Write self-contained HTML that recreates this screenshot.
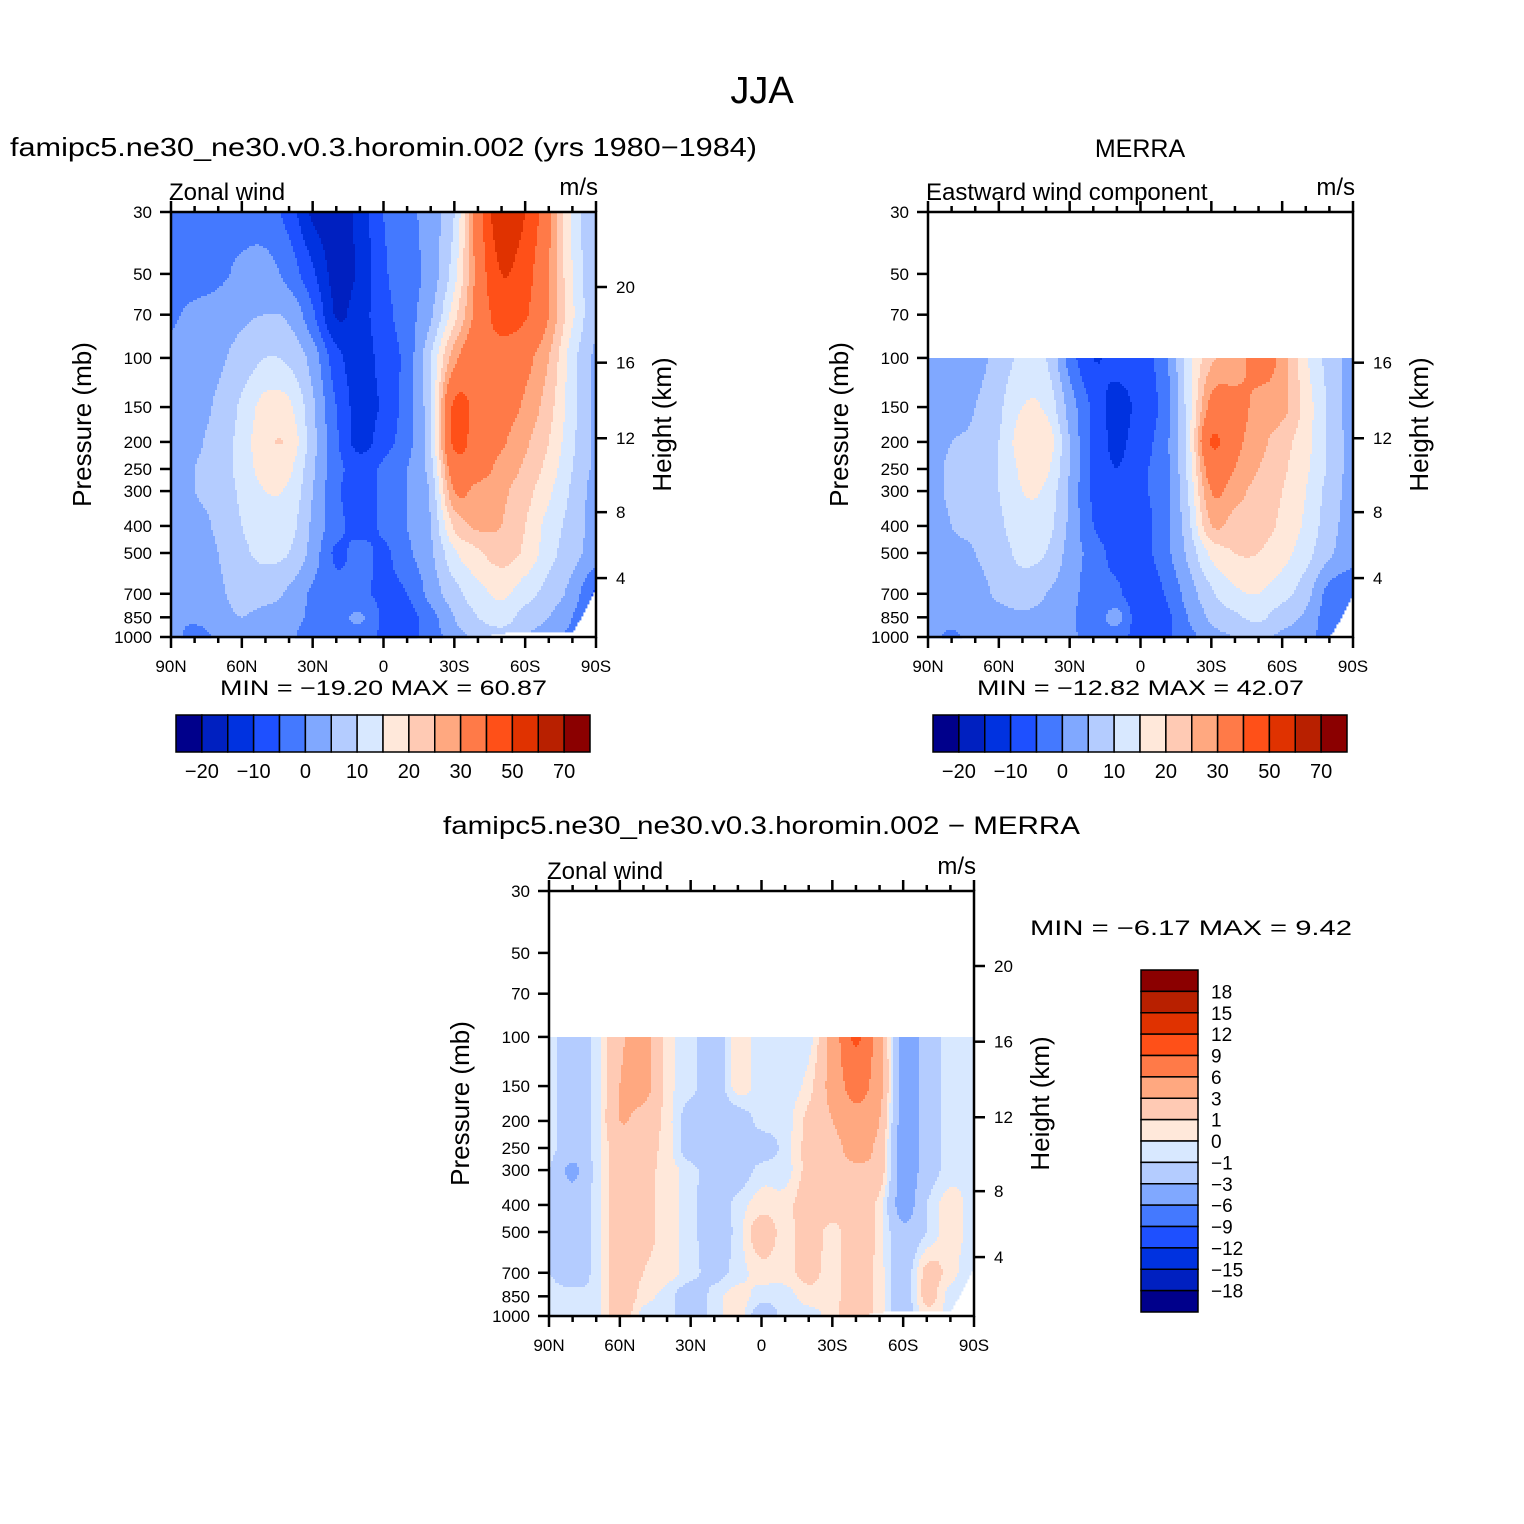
<!DOCTYPE html>
<html><head><meta charset="utf-8"><title>JJA Zonal wind</title>
<style>
html,body{margin:0;padding:0;background:#fff;}
svg{display:block;font-family:"Liberation Sans",sans-serif;}
</style></head>
<body>
<svg id="fig" width="1524" height="1524" viewBox="0 0 1524 1524" xmlns="http://www.w3.org/2000/svg">
<rect x="0" y="0" width="1524" height="1524" fill="#fff"/>
<text x="762" y="103" font-size="38" text-anchor="middle">JJA</text>
<text x="10" y="156" font-size="26" textLength="747" lengthAdjust="spacingAndGlyphs">famipc5.ne30_ne30.v0.3.horomin.002 (yrs 1980−1984)</text>
<text x="1140" y="157" font-size="25" text-anchor="middle">MERRA</text>
<text x="443" y="834" font-size="25" textLength="637" lengthAdjust="spacingAndGlyphs">famipc5.ne30_ne30.v0.3.horomin.002 − MERRA</text>
<g id="p1"></g>
<g id="p2"></g>
<g id="p3"></g>
</svg>
<script>
const PRESS = [30,50,70,100,150,200,250,300,400,500,700,850,1000];
const LATS = [90,80,70,60,50,40,30,20,10,0,-10,-20,-30,-40,-50,-60,-70,-80,-90];
const PRESS_TICKS = [30,50,70,100,150,200,250,300,400,500,700,850,1000];
const LAT_TICK_LABELS = ["90N","60N","30N","0","30S","60S","90S"];
const LAT_TICK_VALUES = [90,60,30,0,-30,-60,-90];
const HEIGHT_TICKS_KM = [20,16,12,8,4];
const HEIGHT_TICKS_P = [55.7,104,194,357,615];
const PALETTE = ["#00008b","#0020c0","#0032e0","#1e50ff","#4479ff","#80a8ff","#b4ccff","#d8e8ff","#ffe8da","#ffcab4","#ffa880","#ff7a48","#ff5018","#e03200","#b82000","#8b0000"];
const LEVELS_ABS = [-20,-15,-10,-5,0,5,10,15,20,25,30,40,50,60,70];
const LEVELS_DIFF = [-18,-15,-12,-9,-6,-3,-1,0,1,3,6,9,12,15,18];
const SURF_MODEL = [1000,1000,1000,1000,1000,1000,1000,1000,1000,1000,1000,1000,1000,1000,968,965,965,962,660];
const SURF_MERRA = [1000,1000,1000,1000,1000,1000,1000,1000,1000,1000,1000,1000,1000,1000,1000,1000,1000,1000,700];
const modelU = [
 [-2,-2,-2,-2,-3,-7,-16,-18,-13,-5,-2,3,10,35,58,50,32,14,5],
 [-2,-2,-1,1,2,-2,-9,-17,-14,-6,-2,2,13,33,50,44,30,15,6],
 [-0.5,1,2,4,5,4,-4,-15.5,-12,-7,-2,4,18,33,44,41,30,16,6],
 [1,2,4,7,10,9,3,-8,-12,-8,-3,10,28,36,36,32,25,12,4],
 [1,3,6,11,17,16,6,-5,-12,-9,-2,10,42,37,33,29,22,12,4],
 [1,4,7,12,19,19,7,-4,-12,-7,-2,10,42,35,31,26,20,11,4],
 [2,5,7,12,17,16,6,-3,-7,-4,0,8,35,33,28,24,18,10,4],
 [2,5,7,11,15,14,5,-4,-7,-4,0,6,30,28,26,22,16,9,3],
 [1,3,6,10,12,12,4,-3,-7,-4,0,5,21,26,25,20,13,8,3],
 [1,2,5,9,11,10,3,-6,-3,-6,-1,4,14,19,22,19,12,7,3],
 [1,2,4,7,7,4,-1,-3,-4,-6,-5,2,8,13,16,12,8,3,-6],
 [1,1,3,5,3,2,-1,-2,1,-6,-7,-2,5,10,12,8,5,0,-8],
 [2,-2,1,3,2,1,-3,-3,-2,-6,-6,-3,3,6,8,5,2,-2,-8]
];
const N = null;
const merraU = [
 [N,N,N,N,N,N,N,N,N,N,N,N,N,N,N,N,N,N,N],
 [N,N,N,N,N,N,N,N,N,N,N,N,N,N,N,N,N,N,N],
 [N,N,N,N,N,N,N,N,N,N,N,N,N,N,N,N,N,N,N],
 [2,2,3,7,11,10,-2,-10,-8,-7,-2,12,24,26,33,28,16,8,3],
 [2,3,5,9,15,14,3,-6,-12,-8,-3,12,32,33,28,27,18,9,3],
 [3,5,6,10,18,19,5,-6,-11,-7,-2,12,41,32,27,22,17,9,3],
 [3,6,7,10,16,16,5,-6,-10,-6,-2,11,34,30,25,21,16,9,3],
 [3,6,7,10,15,14,4,-6,-10,-6,-2,10,30,27,23,20,15,8,3],
 [2,5,6,9,13,12,4,-5,-8,-7,-2,8,25,23,22,19,14,7,3],
 [2,4,5,8,11,10,3,-2,-7,-7,-2,6,16,20,20,17,12,6,2],
 [2,2,3,6,8,5,2,-3,-4,-9,-5,2,9,14,15,12,7,-2,-4],
 [2,2,3,3,4,3,1,-3,2,-9,-7,0,6,9,11,7,4,-3,-5],
 [2,-1,2,3,3,2,1,-2,-3,-7,-6,-2,3,5,6,4,2,-3,-5]
];
const diffU = [
 [N,N,N,N,N,N,N,N,N,N,N,N,N,N,N,N,N,N,N],
 [N,N,N,N,N,N,N,N,N,N,N,N,N,N,N,N,N,N,N],
 [N,N,N,N,N,N,N,N,N,N,N,N,N,N,N,N,N,N,N],
 [-0.5,-2,-0.5,2.5,4,0.5,-0.5,-2,0.5,-0.5,-0.5,-0.5,4,9.4,4,-4,-2,-0.5,-0.5],
 [-0.5,-2,-0.5,3,4,0.5,-0.5,-2,0.5,-0.5,-0.5,0.5,4,7,4,-4,-2,-0.5,-0.5],
 [-0.5,-2,-0.5,3,2,0.5,-2,-2,-2,-0.5,-0.5,1.5,3,5,3,-4,-2,-0.5,-0.5],
 [-0.5,-2,-0.5,2,1.5,0.5,-2,-2,-2,-2,-0.5,1.5,2,4,2,-4,-2,-0.5,-0.5],
 [-1,-3.5,-0.5,2,1.5,0.5,-0.5,-2,-2,-0.5,-0.5,1.5,2,2.5,2,-4,-2,-0.5,-0.5],
 [-1,-2,-0.5,2,1.5,0.5,-0.5,-2,-0.5,0.5,0.5,2,2,2,0.5,-4,-1,0.5,-0.5],
 [-1,-2,-0.5,2,1.5,0.5,-0.5,-2,-0.5,2,0.5,2,0.5,2,0.5,-2.5,-1,0.5,-0.5],
 [-1,-2,-0.5,2,1,0.5,-0.5,-1.5,-0.5,0.5,0.5,1.5,0.5,2,0.5,-2,1.5,0.5,-1],
 [-0.5,-0.5,-0.5,2,0.5,-0.5,-2,-0.5,0.5,-0.5,-0.5,0.5,0.5,2,0.5,-2,1.5,-0.5,-1],
 [-0.5,-0.5,-0.5,2,-0.5,-0.5,-2,-0.5,0.5,-2,-0.5,-0.5,0.5,2,0.5,-2,0.5,-0.5,-1]
];
const ABS_LABELS = ["−20","−10","0","10","20","30","50","70"];
const DIFF_LABELS = ["18","15","12","9","6","3","1","0","−1","−3","−6","−9","−12","−15","−18"];

const NS = "http://www.w3.org/2000/svg";
const SIZE = 425;
const LP0 = Math.log10(30), LP1 = 3;
function mk(tag, attrs, parent){
  const e = document.createElementNS(NS, tag);
  for (const k in attrs) e.setAttribute(k, attrs[k]);
  parent.appendChild(e);
  return e;
}
function yOfP(oy, p){ return oy + (Math.log10(p)-LP0)/(LP1-LP0)*SIZE; }
function xOfLat(ox, lat){ return ox + (90-lat)/180*SIZE; }
function rowAt(row, jf){
  const n = row.length;
  let j = Math.min(n-2, Math.max(0, Math.floor(jf)));
  const t = Math.min(1, Math.max(0, jf-j));
  const p1 = row[j], p2 = row[j+1];
  if (p1===null || p2===null) return null;
  const p0 = j>0 && row[j-1]!==null ? row[j-1] : p1;
  const p3 = j+2<n && row[j+2]!==null ? row[j+2] : p2;
  const t2 = t*t, t3 = t2*t;
  return 0.5*((2*p1) + (-p0+p2)*t + (2*p0-5*p1+4*p2-p3)*t2 + (-p0+3*p1-3*p2+p3)*t3);
}
function sample(data, lat, p){
  const lp = Math.log10(p);
  let i = 0;
  while (i < PRESS.length-2 && Math.log10(PRESS[i+1]) < lp) i++;
  const a = Math.log10(PRESS[i]), b = Math.log10(PRESS[i+1]);
  const fy = Math.min(1, Math.max(0, (lp-a)/(b-a)));
  const jf = (90-lat)/10;
  const v0 = rowAt(data[i], jf), v1 = rowAt(data[i+1], jf);
  if (v0===null || v1===null) return null;
  const s = fy*fy*(3-2*fy)*0.35 + fy*0.65;
  return v0*(1-s) + v1*s;
}
function surfAt(surf, lat){
  const jf = (90-lat)/10;
  let j = Math.min(LATS.length-2, Math.max(0, Math.floor(jf)));
  const f = Math.min(1, Math.max(0, jf-j));
  return surf[j]*(1-f)+surf[j+1]*f;
}
function colorIdx(levels, v){
  let k = 0;
  while (k < levels.length && v >= levels[k]) k++;
  return k;
}
function drawField(g, ox, oy, data, levels, surf){
  const fg = mk('g', {}, g);
  
  
  const step = 2;
  for (let ry = 0; ry < SIZE; ry += step){
    const yc = oy + ry + step/2;
    const p = Math.pow(10, LP0 + (yc-oy)/SIZE*(LP1-LP0));
    let runStart = 0, runCol = null;
    const flush = (endX) => {
      if (runCol !== null && endX > runStart){
        const r = mk('rect', {x: ox+runStart, y: oy+ry, width: endX-runStart+0.4, height: step+0.4, fill: runCol}, fg);
        
        
      }
    };
    for (let rx = 0; rx < SIZE; rx += step){
      const lat = 90 - (rx+step/2)/SIZE*180;
      let v = sample(data, lat, p);
      if (v !== null && p > surfAt(surf, lat)) v = null;
      const c = v === null ? null : PALETTE[colorIdx(levels, v)];
      if (c !== runCol){ flush(rx); runStart = rx; runCol = c; }
    }
    flush(SIZE);
  }
}
function drawAxes(g, ox, oy, opts){
  const ax = mk('g', {stroke:'#000', 'stroke-width':2.5, fill:'none'}, g);
  
  
  mk('rect', {x:ox, y:oy, width:SIZE, height:SIZE}, ax);
  for (let lat = 90; lat >= -90; lat -= 10){
    const x = xOfLat(ox, lat);
    const len = (lat % 30 === 0) ? 11 : 6;
    mk('line', {x1:x, y1:oy, x2:x, y2:oy-len}, ax);
    mk('line', {x1:x, y1:oy+SIZE, x2:x, y2:oy+SIZE+len}, ax);
  }
  LAT_TICK_VALUES.forEach((lat, k) => {
    const t = mk('text', {x:xOfLat(ox, lat), y:oy+SIZE+35, 'font-size':17, 'text-anchor':'middle', fill:'#000', stroke:'none'}, g);
    
    
    t.textContent = LAT_TICK_LABELS[k];
  });
  PRESS_TICKS.forEach(p => {
    const y = yOfP(oy, p);
    mk('line', {x1:ox, y1:y, x2:ox-11, y2:y}, ax);
    const t = mk('text', {x:ox-19, y:y+6, 'font-size':17, 'text-anchor':'end', fill:'#000', stroke:'none'}, g);
    
    
    t.textContent = String(p);
  });
  HEIGHT_TICKS_KM.forEach((z, k) => {
    if (opts.skip20 && z === 20) return;
    const y = yOfP(oy, HEIGHT_TICKS_P[k]);
    mk('line', {x1:ox+SIZE, y1:y, x2:ox+SIZE+11, y2:y}, ax);
    const t = mk('text', {x:ox+SIZE+20, y:y+6, 'font-size':17, fill:'#000', stroke:'none'}, g);
    
    
    t.textContent = String(z);
  });
  const yl = mk('text', {x:0, y:0, 'font-size':26, 'text-anchor':'middle', transform:`translate(${ox-80},${oy+SIZE/2}) rotate(-90)`}, g);
  
  
  yl.textContent = 'Pressure (mb)';
  const yr = mk('text', {x:0, y:0, 'font-size':26, 'text-anchor':'middle', transform:`translate(${ox+SIZE+75},${oy+SIZE/2}) rotate(-90)`}, g);
  
  
  yr.textContent = 'Height (km)';
  const lt = mk('text', {x:ox-2, y:oy-12, 'font-size':24}, g);
  
  
  lt.textContent = opts.left;
  const rt = mk('text', {x:ox+SIZE+2, y:oy-17, 'font-size':24, 'text-anchor':'end'}, g);
  
  
  rt.textContent = 'm/s';
}
function hColorbar(g, x0, y0){
  const w = 414/16;
  const cb = mk('g', {}, g);
  
  
  PALETTE.forEach((c, k) => {
    const r = mk('rect', {x:x0+k*w, y:y0, width:w, height:37, fill:c, stroke:'#000', 'stroke-width':1.5}, cb);
    
    
  });
  ABS_LABELS.forEach((s, k) => {
    const t = mk('text', {x:x0+(1+2*k)*w, y:y0+63, 'font-size':20, 'text-anchor':'middle'}, cb);
    
    
    t.textContent = s;
  });
}
function minmax(g, x, y, txt, len){
  const t = mk('text', {x:x, y:y, 'font-size':21, textLength:len, lengthAdjust:'spacingAndGlyphs', 'xml:space':'preserve'}, g);
  
  
  t.textContent = txt;
}

const g1 = document.getElementById('p1');
drawField(g1, 171, 212, modelU, LEVELS_ABS, SURF_MODEL);
drawAxes(g1, 171, 212, {left:'Zonal wind'});
minmax(g1, 220, 695, 'MIN = −19.20  MAX =   60.87', 327);
hColorbar(g1, 176, 715);

const g2 = document.getElementById('p2');
drawField(g2, 928, 212, merraU, LEVELS_ABS, SURF_MERRA);
drawAxes(g2, 928, 212, {left:'Eastward wind component', skip20:true});
minmax(g2, 977, 695, 'MIN = −12.82  MAX =   42.07', 327);
hColorbar(g2, 933, 715);

const g3 = document.getElementById('p3');
drawField(g3, 549, 891, diffU, LEVELS_DIFF, SURF_MODEL);
drawAxes(g3, 549, 891, {left:'Zonal wind'});
minmax(g3, 1030, 935, 'MIN =   −6.17   MAX =    9.42', 322);
(function(){
  const x0 = 1141, y0 = 970, h = 342/16;
  const cb = mk('g', {}, g3);
  
  
  for (let k = 0; k < 16; k++){
    const r = mk('rect', {x:x0, y:y0+k*h, width:57, height:h, fill:PALETTE[15-k], stroke:'#000', 'stroke-width':1.5}, cb);
    
    
  }
  DIFF_LABELS.forEach((s, k) => {
    const t = mk('text', {x:x0+70, y:y0+(k+1)*h+7, 'font-size':19}, cb);
    
    
    t.textContent = s;
  });
})();
</script>
</body></html>
